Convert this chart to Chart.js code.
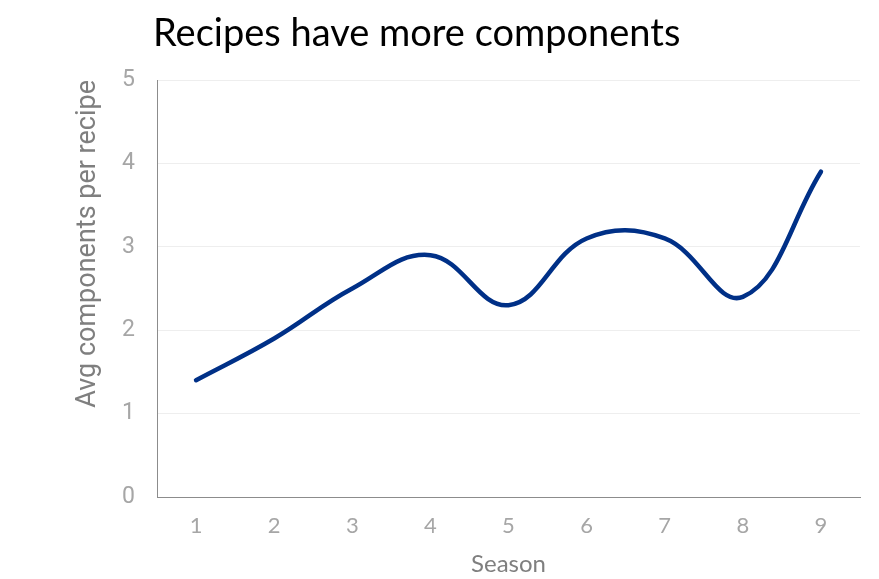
<!DOCTYPE html>
<html>
<head>
<meta charset="utf-8">
<script src="https://cdn.jsdelivr.net/npm/chart.js@4"></script>
<style>
  html, body { margin: 0; padding: 0; background: #ffffff; }
  #wrap { width: 879px; height: 579px; position: relative; }
</style>
</head>
<body>
<div id="wrap"><canvas id="c" width="879" height="579"></canvas></div>
<script>
const titleText = "Recipes have more components";
const seasons = ["1", "2", "3", "4", "5", "6", "7", "8", "9"];
const avgComponents = [1.4, 1.9, 2.5, 2.9, 2.3, 3.1, 3.1, 2.4, 3.9];
const yTicks = [0, 1, 2, 3, 4, 5];
const xTitle = "Season";
const yTitle = "Avg components per recipe";

const titlePlugin = {
  id: 'leftTitle',
  afterDraw(chart) {
    const ctx = chart.ctx;
    ctx.save();
    ctx.font = '38px Lato';
    ctx.fillStyle = '#000000';
    ctx.textBaseline = 'alphabetic';
    ctx.textAlign = 'left';
    ctx.fillText(titleText, 153, 46);
    ctx.restore();
  }
};

new Chart(document.getElementById('c'), {
  type: 'line',
  data: {
    labels: seasons,
    datasets: [{
      data: avgComponents,
      borderColor: '#003087',
      borderWidth: 4.5,
      tension: 0.4,
      pointRadius: 0,
      borderCapStyle: 'round',
      fill: false
    }]
  },
  options: {
    responsive: false,
    animation: false,
    layout: { padding: { left: 68, right: 19, top: 80, bottom: 0 } },
    plugins: { legend: { display: false }, tooltip: { enabled: false }, title: { display: false } },
    scales: {
      x: {
        offset: true,
        grid: { display: false, drawTicks: false },
        border: { display: true, color: '#8c8c8c', width: 1 },
        ticks: { color: '#a6a6a6', font: { family: 'Lato', size: 22 }, padding: 16 },
        title: { display: true, text: xTitle, color: '#7f7f7f', font: { family: 'Lato', size: 24 }, padding: { top: 0, bottom: 0 } },
        afterFit(s) { s.height = 82; }
      },
      y: {
        min: 0, max: 5,
        afterBuildTicks(s) { s.ticks = yTicks.map(v => ({ value: v })); },
        grid: { color: '#eeeeee', drawTicks: false },
        border: { display: true, color: '#8c8c8c', width: 1 },
        ticks: { color: '#a6a6a6', font: { family: 'Roboto', size: 23 }, padding: 22 },
        title: { display: true, text: yTitle, align: 'end', color: '#7f7f7f', font: { family: 'Roboto', size: 27 }, padding: { top: 4, bottom: 0 } },
        afterFit(s) { s.width = 89; }
      }
    }
  },
  plugins: [titlePlugin]
});
</script>
</body>
</html>
